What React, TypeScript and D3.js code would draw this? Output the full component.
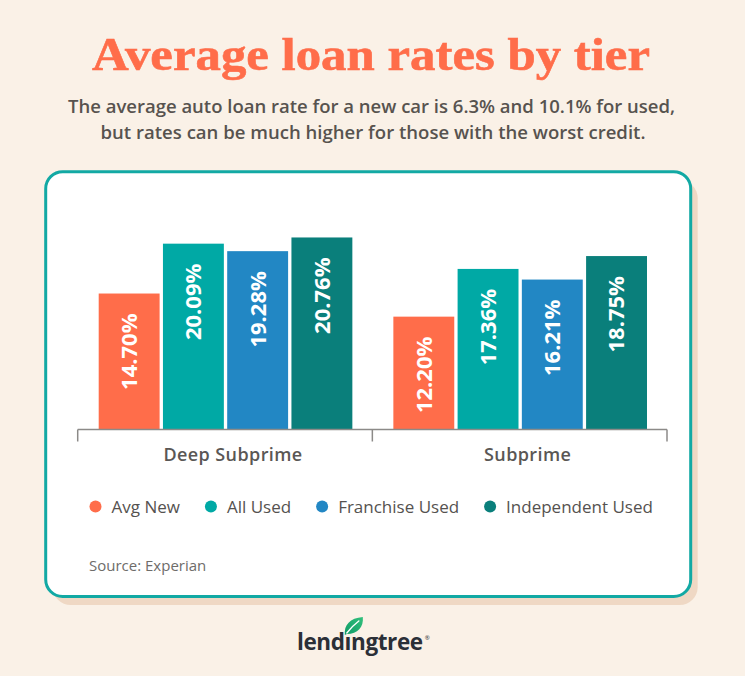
import React, { useEffect, useRef } from "react";
import * as d3 from "d3";

const categories = ["Deep Subprime", "Subprime"];
const seriesNames = ["Avg New", "All Used", "Franchise Used", "Independent Used"];
const avgNew = [14.7, 12.2];
const allUsed = [20.09, 17.36];
const franchiseUsed = [19.28, 16.21];
const independentUsed = [20.76, 18.75];
const seriesValues = [avgNew, allUsed, franchiseUsed, independentUsed];
const seriesColors = ["#FF6D4A", "#00A9A5", "#2287C4", "#0A7F7B"];
const yTicks = [0, 22];

const titleText = "Average loan rates by tier";
const subtitleLines = [
  "The average auto loan rate for a new car is 6.3% and 10.1% for used,",
  "but rates can be much higher for those with the worst credit.",
];
const sourceText = "Source: Experian";

const W = 745;
const H = 676;
const SANS = "'Open Sans', 'Noto Sans', sans-serif";

export default function App() {
  const ref = useRef<SVGSVGElement | null>(null);

  useEffect(() => {
    const svg = d3.select(ref.current);
    svg.selectAll("*").remove();

    svg.append("rect").attr("width", W).attr("height", H).attr("fill", "#FAF1E7");

    // Title
    svg
      .append("text")
      .attr("x", 371)
      .attr("y", 69.5)
      .attr("text-anchor", "middle")
      .attr("font-family", "'Liberation Serif', 'DejaVu Serif', serif")
      .attr("font-weight", 700)
      .attr("font-size", 46)
      .attr("fill", "#FF6D4A")
      .attr("stroke", "#FF6D4A")
      .attr("stroke-width", 0.6)
      .attr("textLength", 558)
      .attr("lengthAdjust", "spacingAndGlyphs")
      .text(titleText);

    // Subtitle
    const subLens = [607, 545];
    const subX = [371.5, 373];
    subtitleLines.forEach((line, i) => {
      svg
        .append("text")
        .attr("x", subX[i])
        .attr("y", 112.5 + i * 26)
        .attr("text-anchor", "middle")
        .attr("font-family", SANS)
        .attr("font-weight", 600)
        .attr("font-size", 18)
        .attr("fill", "#57534F")
        .attr("textLength", subLens[i])
        .attr("lengthAdjust", "spacingAndGlyphs")
        .text(line);
    });

    // Card
    const card = { x: 45.7, y: 171.7, w: 645, h: 424.8, r: 17 };
    svg
      .append("rect")
      .attr("x", card.x + 7)
      .attr("y", card.y + 8.5)
      .attr("width", card.w)
      .attr("height", card.h)
      .attr("rx", card.r + 1)
      .attr("fill", "#EFD8C4");
    svg
      .append("rect")
      .attr("x", card.x)
      .attr("y", card.y)
      .attr("width", card.w)
      .attr("height", card.h)
      .attr("rx", card.r)
      .attr("fill", "#FFFFFF")
      .attr("stroke", "#12A9A4")
      .attr("stroke-width", 3);

    // Scales
    const x0 = d3.scaleBand<string>().domain(categories).range([77.7, 667]).paddingInner(0).paddingOuter(0);
    const x1 = d3
      .scaleBand<string>()
      .domain(seriesNames)
      .range([21, x0.bandwidth() - 20])
      .paddingInner(0.052)
      .paddingOuter(0);
    const y = d3.scaleLinear().domain([yTicks[0], yTicks[1]]).range([429.5, 429.5 - 22 * 9.25]);

    // Bars
    const g = svg.append("g");
    categories.forEach((cat, ci) => {
      seriesNames.forEach((s, si) => {
        const v = seriesValues[si][ci];
        const bx = (x0(cat) as number) + (x1(s) as number);
        const bw = x1.bandwidth();
        g.append("rect")
          .attr("x", bx)
          .attr("y", y(v))
          .attr("width", bw)
          .attr("height", y(0) - y(v))
          .attr("fill", seriesColors[si]);
        const cx = bx + bw / 2;
        const ty = y(v) + 20;
        g.append("text")
          .attr("transform", `translate(${cx},${ty}) rotate(-90)`)
          .attr("text-anchor", "end")
          .attr("dy", "0.36em")
          .attr("font-family", SANS)
          .attr("font-weight", 700)
          .attr("font-size", 22)
          .attr("fill", "#FFFFFF")
          .text(v.toFixed(2) + "%");
      });
    });

    // Axis
    const axisY = y(0);
    const range = x0.range();
    const tickXs = [range[0], ...categories.map((c) => (x0(c) as number) + x0.bandwidth())];
    svg
      .append("line")
      .attr("x1", range[0])
      .attr("x2", range[1])
      .attr("y1", axisY)
      .attr("y2", axisY)
      .attr("stroke", "#8C8A88")
      .attr("stroke-width", 1.5);
    tickXs.forEach((tx) => {
      svg
        .append("line")
        .attr("x1", tx)
        .attr("x2", tx)
        .attr("y1", axisY)
        .attr("y2", axisY + 12)
        .attr("stroke", "#8C8A88")
        .attr("stroke-width", 1.5);
    });
    categories.forEach((cat) => {
      svg
        .append("text")
        .attr("x", (x0(cat) as number) + x0.bandwidth() / 2 + 8)
        .attr("y", 460.5)
        .attr("text-anchor", "middle")
        .attr("font-family", SANS)
        .attr("font-weight", 600)
        .attr("font-size", 18)
        .attr("letter-spacing", 0.4)
        .attr("fill", "#5A5755")
        .text(cat);
    });

    // Legend
    let lx = 95.5;
    const ly = 506.5;
    seriesNames.forEach((s, si) => {
      svg.append("circle").attr("cx", lx).attr("cy", ly).attr("r", 6).attr("fill", seriesColors[si]);
      const t = svg
        .append("text")
        .attr("x", lx + 16)
        .attr("y", ly + 6)
        .attr("font-family", SANS)
        .attr("font-size", 17)
        .attr("fill", "#555250")
        .text(s);
      const len = (t.node() as SVGTextElement).getComputedTextLength();
      lx = lx + 16 + len + 31;
    });

    // Source
    svg
      .append("text")
      .attr("x", 89)
      .attr("y", 570.5)
      .attr("font-family", SANS)
      .attr("font-size", 15)
      .attr("fill", "#6E6C6A")
      .text(sourceText);

    // Logo
    const logo = svg.append("g");
    const lt = logo
      .append("text")
      .attr("x", 297)
      .attr("y", 650)
      .attr("font-family", SANS)
      .attr("font-weight", 700)
      .attr("font-size", 22.5)
      .attr("letter-spacing", -0.4)
      .attr("fill", "#2B2F37")
      .text("lend\u0131ngtree");
    const mainLen = (lt.node() as SVGTextElement).getComputedTextLength();
    logo
      .append("text")
      .attr("x", 297 + mainLen + 2)
      .attr("y", 640)
      .attr("font-family", SANS)
      .attr("font-size", 6)
      .attr("fill", "#2B2F37")
      .text("\u00AE");
    let iCx = 349;
    try {
      const node = lt.node() as SVGTextElement;
      const p0 = node.getStartPositionOfChar(4);
      const p1 = node.getEndPositionOfChar(4);
      iCx = (p0.x + p1.x) / 2;
    } catch (e) {}
    const defs = svg.append("defs");
    const grad = defs
      .append("linearGradient")
      .attr("id", "leafGrad")
      .attr("x1", "0%")
      .attr("y1", "100%")
      .attr("x2", "100%")
      .attr("y2", "0%");
    grad.append("stop").attr("offset", "0%").attr("stop-color", "#0E9A66");
    grad.append("stop").attr("offset", "100%").attr("stop-color", "#32C07C");
    const leaf = logo.append("g").attr("transform", `translate(${iCx - 3},${635})`);
    leaf
      .append("path")
      .attr("d", "M0,0 C-1,-10 5,-17 18,-18 C19,-8 13,-1 2,-1 Z")
      .attr("fill", "url(#leafGrad)");
    leaf
      .append("path")
      .attr("d", "M2,-2 C6,-7 10,-11 14,-14")
      .attr("stroke", "#FFFFFF")
      .attr("stroke-width", 1.4)
      .attr("fill", "none")
      .attr("stroke-linecap", "round");
  }, []);

  return (
    <svg
      ref={ref}
      width={W}
      height={H}
      style={{ position: "fixed", top: 0, left: 0, display: "block" }}
    />
  );
}
